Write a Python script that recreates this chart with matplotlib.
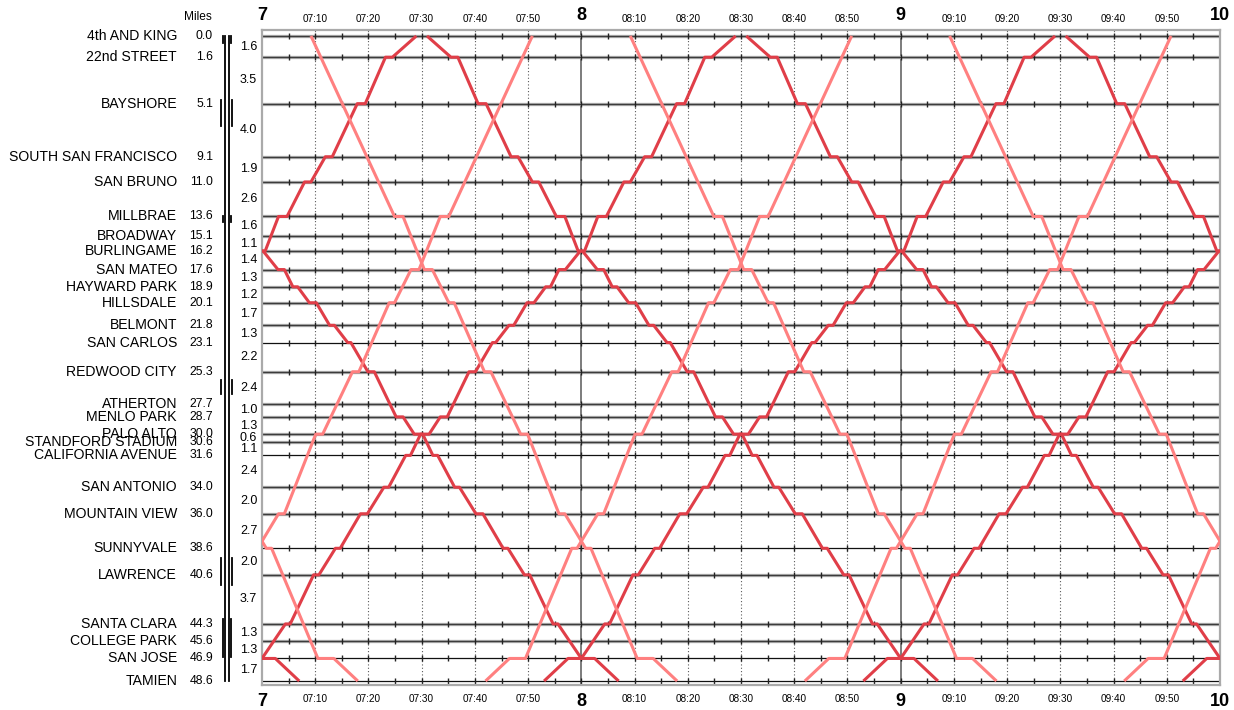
import matplotlib
matplotlib.use('Agg')
import matplotlib.pyplot as plt
from matplotlib.transforms import blended_transform_factory

plt.rcParams['font.family'] = ['Liberation Sans', 'DejaVu Sans']

# stations north to south, mileage from 4th and King
stations = ['4th AND KING', '22nd STREET', 'BAYSHORE', 'SOUTH SAN FRANCISCO', 'SAN BRUNO',
            'MILLBRAE', 'BROADWAY', 'BURLINGAME', 'SAN MATEO', 'HAYWARD PARK', 'HILLSDALE',
            'BELMONT', 'SAN CARLOS', 'REDWOOD CITY', 'ATHERTON', 'MENLO PARK', 'PALO ALTO',
            'STANDFORD STADIUM', 'CALIFORNIA AVENUE', 'SAN ANTONIO', 'MOUNTAIN VIEW',
            'SUNNYVALE', 'LAWRENCE', 'SANTA CLARA', 'COLLEGE PARK', 'SAN JOSE', 'TAMIEN']
miles = [0.0, 1.6, 5.1, 9.1, 11.0, 13.6, 15.1, 16.2, 17.6, 18.9, 20.1, 21.8, 23.1, 25.3,
         27.7, 28.7, 30.0, 30.6, 31.6, 34.0, 36.0, 38.6, 40.6, 44.3, 45.6, 46.9, 48.6]
# distances printed between neighbouring stations
gaps = ['1.6', '3.5', '4.0', '1.9', '2.6', '1.6', '1.1', '1.4', '1.3', '1.2', '1.7', '1.3', '2.2',
        '2.4', '1.0', '1.3', '0.6', '1.1', '2.4', '2.0', '2.7', '2.0', '3.7', '1.3', '1.3', '1.7']
# these get a thin black line instead of the grey one
thin_stations = ['SAN CARLOS', 'CALIFORNIA AVENUE', 'SUNNYVALE', 'SAN JOSE', 'TAMIEN']
# extra tracks on the track diagram: (from mile, to mile, wide?)
track_sections = [(0.0, 0.5, False), (4.8, 6.8, True), (13.6, 14.0, False),
                  (25.9, 27.0, True), (39.3, 41.4, True), (43.9, 46.8, False)]

# local trains, southbound, minutes after the half hour (northbound is the mirror)
local_stops = ['4th AND KING', '22nd STREET', 'BAYSHORE', 'SOUTH SAN FRANCISCO', 'SAN BRUNO',
               'MILLBRAE', 'BURLINGAME', 'SAN MATEO', 'HAYWARD PARK', 'HILLSDALE', 'BELMONT',
               'SAN CARLOS', 'REDWOOD CITY', 'MENLO PARK', 'PALO ALTO', 'CALIFORNIA AVENUE',
               'SAN ANTONIO', 'MOUNTAIN VIEW', 'SUNNYVALE', 'LAWRENCE', 'SANTA CLARA',
               'SAN JOSE', 'TAMIEN']
local_arr = [1.0, 5.5, 10.6, 16.8, 20.8, 25.3, 29.4, 33.0, 35.8, 38.9, 42.7, 46.1, 49.9,
             55.2, 58.6, 62.1, 66.2, 70.2, 75.3, 79.3, 84.7, 90.0, 97.0]
local_dep = [1.0, 6.8, 12.1, 18.1, 22.0, 26.9, 30.2, 34.2, 36.7, 40.2, 43.6, 46.7, 51.1,
             56.5, 60.2, 63.0, 67.1, 71.5, 76.2, 80.3, 85.6, 92.5, 97.0]

# limited trains, same convention
limited_stops = ['4th AND KING', 'MILLBRAE', 'SAN MATEO', 'HILLSDALE', 'REDWOOD CITY',
                 'PALO ALTO', 'MOUNTAIN VIEW', 'SUNNYVALE', 'SAN JOSE', 'TAMIEN']
limited_arr = [-20.8, -5.1, 0.5, 5.1, 11.8, 18.6, 25.8, 30.8, 40.5, 48.0]
limited_dep = [-20.8, -3.5, 2.0, 6.1, 13.0, 19.9, 26.9, 31.8, 43.5, 48.0]

first_hour = 7
span = 180  # minutes shown

DARK = '#e03e48'
LIGHT = '#ff8080'


def run_path(stops, arr, dep):
    xs, ys = [], []
    for st, a, d in zip(stops, arr, dep):
        m = miles[stations.index(st)]
        xs += [a, d]
        ys += [m, m]
    return xs, ys


W, H = 1234, 710
fig = plt.figure(figsize=(W / 100, H / 100), dpi=100)
ax = fig.add_axes([262 / W, 25 / H, 958 / W, 655 / H])
side = fig.add_axes([0, 25 / H, 262 / W, 655 / H], sharey=ax)
ax.set_xlim(0, span)
ax.set_ylim(48.9, -0.45)
ax.set_xticks([])
ax.set_yticks([])
side.set_xlim(0, 262)
side.axis('off')
for sp in ax.spines.values():
    sp.set_color('#aaaaaa')
    sp.set_linewidth(1.6)

# time grid
for t in range(10, span, 10):
    if t % 60 == 0:
        ax.axvline(t, color='#666666', lw=1.2, zorder=1)
    else:
        ax.axvline(t, color='#5a5a5a', lw=0.8, ls=(0, (1, 2)), zorder=1)

# station lines with 5 minute ticks
tick_times = list(range(5, span, 5))
for name, m in zip(stations, miles):
    if name in thin_stations:
        ax.axhline(m, color='#111111', lw=0.9, zorder=1.2)
    else:
        ax.axhline(m, color='#b8b8b8', lw=2.4, zorder=1.2)
        ax.axhline(m, color='#3c3c3c', lw=1.0, zorder=1.3)
    ax.plot(tick_times, [m] * len(tick_times), ls='none', marker='|', ms=4.5, mew=1.0,
            color='#222222', zorder=1.5)

# trains, repeated every hour
local_x, local_y = run_path(local_stops, local_arr, local_dep)
limited_x, limited_y = run_path(limited_stops, limited_arr, limited_dep)
for centre in range(-90, 300, 60):
    for xs, ys, col, z in [(local_x, local_y, DARK, 3), (limited_x, limited_y, LIGHT, 4)]:
        ax.plot([centre + x for x in xs], ys, color=col, lw=2.2, zorder=z,
                solid_joinstyle='round', solid_capstyle='butt')
        ax.plot([centre - x for x in xs], ys, color=col, lw=2.2, zorder=z,
                solid_joinstyle='round', solid_capstyle='butt')

# time labels top and bottom
trans = blended_transform_factory(ax.transData, fig.transFigure)
for t in range(0, span + 1, 10):
    hh = first_hour + t // 60
    if t % 60 == 0:
        for y in (16, 701):
            ax.text(t, 1 - y / H, str(hh), transform=trans, ha='center', va='center',
                    fontsize=13, fontweight='bold', clip_on=False)
    else:
        for y in (18.5, 699):
            ax.text(t, 1 - y / H, f'{hh:02d}:{t % 60:02d}', transform=trans, ha='center',
                    va='center', fontsize=7.2, clip_on=False)

# station names, mileage, distances
fig.text(212 / W, 1 - 17.5 / H, 'Miles', ha='right', va='center', fontsize=8.6)
for name, m in zip(stations, miles):
    side.text(177, m, name, ha='right', va='center', fontsize=10.1)
    side.text(213, m, f'{m:.1f}', ha='right', va='center', fontsize=8.8)
for i, g in enumerate(gaps):
    side.text(240, (miles[i] + miles[i + 1]) / 2, g, ha='left', va='center', fontsize=9)

# track diagram
for x in (225, 228.5):
    side.plot([x, x], [miles[0], miles[-1]], color='black', lw=1.3)
for a, b, wide in track_sections:
    for x in ((220.7, 232.3) if wide else (222.6, 230.6)):
        side.plot([x, x], [a, b], color='black', lw=1.3)

fig.savefig('out.png', dpi=100)
